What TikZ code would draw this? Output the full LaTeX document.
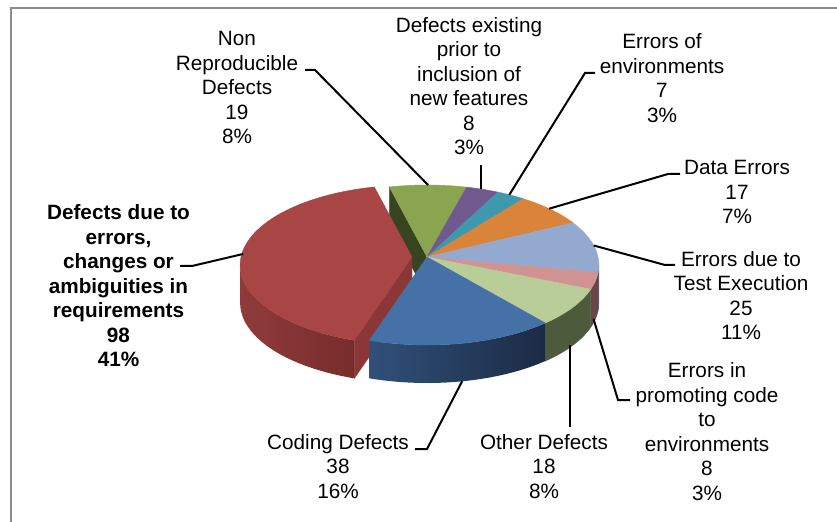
\documentclass[tikz,border=0pt]{standalone}
\usepackage{fontspec}
\setmainfont{Liberation Sans}
\definecolor{cG}{HTML}{8AA450}
\definecolor{cP}{HTML}{71598F}
\definecolor{cT}{HTML}{3E98AE}
\definecolor{cO}{HTML}{DA833B}
\definecolor{cLB}{HTML}{93A9CF}
\definecolor{cPk}{HTML}{D19392}
\definecolor{cLG}{HTML}{B8CD97}
\definecolor{cB}{HTML}{4571A6}
\definecolor{cR}{HTML}{A84545}
\definecolor{cGd}{HTML}{38431F}
\definecolor{cRsa}{HTML}{903B3B}
\definecolor{cRsb}{HTML}{772C2C}
\definecolor{cRd}{HTML}{8B3737}
\definecolor{cBsa}{HTML}{30507A}
\definecolor{cBsb}{HTML}{1B2B44}
\definecolor{cLGs}{HTML}{4E5A3C}
\definecolor{cPks}{HTML}{6A4647}
\definecolor{cLBs}{HTML}{5A6B8A}
\definecolor{frame}{HTML}{8C8C8C}
\begin{document}
\begin{tikzpicture}[x=1bp,y=-1bp,
  declare function={PX(\t)=171*cos(\t)/(1-0.1*sin(\t));
                    PY(\t)=79.2*sin(\t)/(1-0.1*sin(\t));},
  lbl/.style={align=center,font=\fontsize{20.8}{24.6}\selectfont,inner sep=0pt,anchor=north},
  lead/.style={line width=2bp,black},
  slice/.style={fill=#1,draw=#1,line width=0.4bp}
]
\useasboundingbox (0,0) rectangle (837,522);
\fill[white] (0,0) rectangle (837,522);
% frame
\draw[frame,line width=2bp] (11,522) -- (11,8.5) -- (837,8.5);

% green cut face (main body)
\filldraw[slice=cGd] (427,257) -- ({427+PX(-104)},{257+PY(-104)}) -- ({427+PX(-104)},{295+PY(-104)}) -- (427,295) -- cycle;

% exploded red slice
\shade[left color=cRsa,right color=cRsb] plot[domain=107.77:174.26,samples=30] ({412+PX(\x)},{257+PY(\x)}) -- plot[domain=174.26:107.77,samples=30] ({412+PX(\x)},{295+PY(\x)}) -- cycle;
\filldraw[slice=cRd] (412,257) -- ({412+PX(107.77)},{257+PY(107.77)}) -- ({412+PX(107.77)},{295+PY(107.77)}) -- (412,295) -- cycle;
\filldraw[slice=cR] (412,257) -- plot[domain=107.77:256,samples=60] ({412+PX(\x)},{257+PY(\x)}) -- cycle;

% side faces of main body
\filldraw[slice=cLBs] plot[domain=5.74:10.96,samples=6] ({427+PX(\x)},{257+PY(\x)}) -- plot[domain=10.96:5.74,samples=6] ({427+PX(\x)},{295+PY(\x)}) -- cycle;
\filldraw[slice=cPks] plot[domain=10.96:23.06,samples=10] ({427+PX(\x)},{257+PY(\x)}) -- plot[domain=23.06:10.96,samples=10] ({427+PX(\x)},{295+PY(\x)}) -- cycle;
\filldraw[slice=cLGs] plot[domain=23.06:50.29,samples=20] ({427+PX(\x)},{257+PY(\x)}) -- plot[domain=50.29:23.06,samples=20] ({427+PX(\x)},{295+PY(\x)}) -- cycle;
\shade[left color=cBsa,right color=cBsb] plot[domain=50.29:107.77,samples=30] ({427+PX(\x)},{257+PY(\x)}) -- plot[domain=107.77:50.29,samples=30] ({427+PX(\x)},{295+PY(\x)}) -- cycle;

% top faces of main body
\foreach \a/\b/\col in {-104/-75.26/cG, -75.26/-63.16/cP, -63.16/-52.57/cT, -52.57/-26.86/cO, -26.86/10.96/cLB, 10.96/23.06/cPk, 23.06/50.29/cLG, 50.29/107.77/cB}{
  \filldraw[slice=\col] (427,257) -- plot[domain=\a:\b,samples=30] ({427+PX(\x)},{257+PY(\x)}) -- cycle;
}

% anchor points on the pie
\coordinate (pNR) at ({427+PX(-89.6)},{257+PY(-89.6)});
\coordinate (pPR) at (481,189);
\coordinate (pEN) at ({427+PX(-58.5)},{257+PY(-58.5)});
\coordinate (pDA) at ({427+PX(-40.5)},{257+PY(-40.5)});
\coordinate (pTE) at ({427+PX(-8.5)},{257+PY(-8.5)});
\coordinate (pPC) at ({425+PX(17)},{295+PY(17)});
\coordinate (pOD) at (570,345);
\coordinate (pCD) at ({426+PX(79)},{295+PY(79)});
\coordinate (pRQ) at (243,254);

% labels
\node[lbl] (NR) at (237,31.5) {Non\\Reproducible\\Defects\\19\\8\%};
\node[lbl] (PR) at (469,17) {Defects existing\\prior to\\inclusion of\\new features\\8\\3\%};
\node[lbl] (EN) at (662,33.5) {Errors of\\environments\\7\\3\%};
\node[lbl] (DA) at (737,160.5) {Data Errors\\17\\7\%};
\node[lbl] (TE) at (741,251) {Errors due to\\Test Execution\\25\\11\%};
\node[lbl] (PC) at (707,362.5) {Errors in\\promoting code\\to\\environments\\8\\3\%};
\node[lbl] (OD) at (544,434) {Other Defects\\18\\8\%};
\node[lbl] (CD) at (338,434) {Coding Defects\\38\\16\%};
\node[lbl,font=\fontsize{20.8}{24.6}\selectfont\bfseries] (RQ) at (118.5,204.5) {Defects due to\\errors,\\changes or\\ambiguities in\\requirements\\98\\41\%};

% leader endpoints at the labels
\coordinate (lNRa) at (305,70);  \coordinate (lNRb) at (315,70);
\coordinate (lPR) at (481,165);
\coordinate (lENa) at (595,73);  \coordinate (lENb) at (585,73);
\coordinate (lDAa) at (680,174); \coordinate (lDAb) at (668,174);
\coordinate (lTEa) at (675,265); \coordinate (lTEb) at (665,265);
\coordinate (lPCa) at (630,400); \coordinate (lPCb) at (618,400);
\coordinate (lOD) at (570,427);
\coordinate (lCDa) at (415,449); \coordinate (lCDb) at (427,449);
\coordinate (lRQa) at (180,266); \coordinate (lRQb) at (192,266);

\draw[lead] (lNRa) -- (lNRb) -- (pNR);
\draw[lead] (lPR) -- (pPR);
\draw[lead] (lENa) -- (lENb) -- (pEN);
\draw[lead] (lDAa) -- (lDAb) -- (pDA);
\draw[lead] (lTEa) -- (lTEb) -- (pTE);
\draw[lead] (lPCa) -- (lPCb) -- (pPC);
\draw[lead] (lOD) -- (pOD);
\draw[lead] (lCDa) -- (lCDb) -- (pCD);
\draw[lead] (lRQa) -- (lRQb) -- (pRQ);
\end{tikzpicture}
\end{document}
